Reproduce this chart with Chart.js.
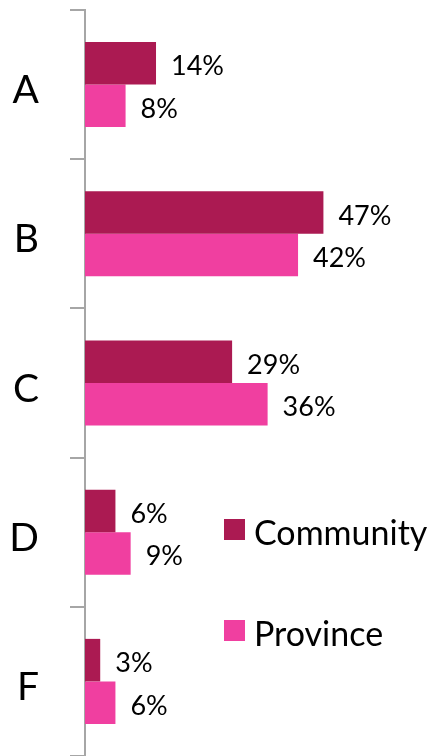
<!DOCTYPE html>
<html>
<head>
<meta charset="utf-8">
<script src="https://cdn.jsdelivr.net/npm/chart.js@4"></script>
<style>
    body { margin: 0; background: #fff; }
    #wrap { width: 434px; height: 756px; position: relative; }
</style>
</head>
<body>
<div id="wrap"><canvas id="barChart"></canvas></div>
<script>
// data
const categories = ['A', 'B', 'C', 'D', 'F'];
const community = [14, 47, 29, 6, 3];
const province = [8, 42, 36, 9, 6];
const seriesNames = ['Community', 'Province'];
const seriesColors = ['#ab1a52', '#f03fa0'];

const fontName = 'Lato';

// value labels at the end of each bar
const valueLabels = {
    id: 'valueLabels',
    afterDatasetsDraw(chart) {
        const ctx = chart.ctx;
        ctx.save();
        ctx.font = '27px ' + fontName;
        ctx.fillStyle = '#000';
        ctx.textAlign = 'left';
        ctx.textBaseline = 'alphabetic';
        chart.data.datasets.forEach(function(ds, i) {
            const meta = chart.getDatasetMeta(i);
            meta.data.forEach(function(bar, j) {
                ctx.fillText(ds.data[j] + '%', bar.x + 15, bar.y + 12);
            });
        });
        ctx.restore();
    }
};

// legend on the right, two items far apart
const sideLegend = {
    id: 'sideLegend',
    afterDraw(chart) {
        const ctx = chart.ctx;
        const rows = [519, 620];
        ctx.save();
        ctx.font = '34px ' + fontName;
        ctx.textBaseline = 'alphabetic';
        for (let i = 0; i < seriesNames.length; i++) {
            ctx.fillStyle = seriesColors[i];
            ctx.fillRect(224, rows[i], 21, 21);
            ctx.fillStyle = '#000';
            ctx.fillText(seriesNames[i], 254, rows[i] + 26);
        }
        ctx.restore();
    }
};

const data = {
    labels: categories,
    datasets: [{
        label: seriesNames[0],
        data: community,
        backgroundColor: seriesColors[0],
        categoryPercentage: 0.57,
        barPercentage: 1.0
    }, {
        label: seriesNames[1],
        data: province,
        backgroundColor: seriesColors[1],
        categoryPercentage: 0.57,
        barPercentage: 1.0
    }]
};

const config = {
    type: 'bar',
    data: data,
    options: {
        indexAxis: 'y',
        responsive: true,
        maintainAspectRatio: false,
        animation: false,
        layout: { padding: { top: 10, bottom: 0, left: 0, right: 0 } },
        plugins: {
            legend: { display: false },
            tooltip: { enabled: false }
        },
        scales: {
            x: {
                display: false,
                min: 0,
                max: 68.8
            },
            y: {
                afterFit(scale) {
                    scale.width = 85;
                    scale.paddingTop = 0;
                    scale.paddingBottom = 0;
                },
                grid: {
                    offset: true,
                    drawOnChartArea: false,
                    tickLength: 15,
                    color: '#a6a6a6',
                    lineWidth: 2
                },
                border: { color: '#a6a6a6', width: 2 },
                ticks: {
                    color: '#000',
                    font: { family: fontName, size: 39 },
                    padding: 31,
                    labelOffset: 6
                }
            }
        }
    },
    plugins: [valueLabels, sideLegend]
};

const myBarChart = new Chart(document.getElementById('barChart'), config);
</script>
</body>
</html>
